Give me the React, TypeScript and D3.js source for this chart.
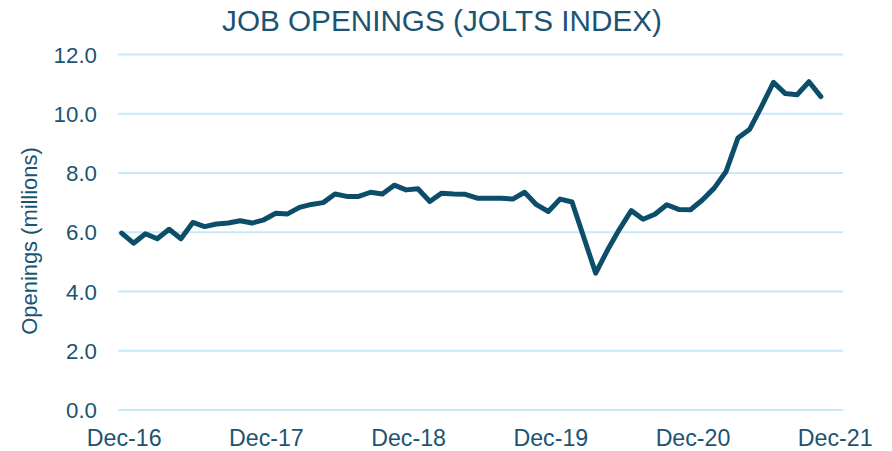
import React from "react";
import * as d3 from "d3";

const months: string[] = (() => {
  const names = ["Jan","Feb","Mar","Apr","May","Jun","Jul","Aug","Sep","Oct","Nov","Dec"];
  const out: string[] = [];
  for (let i = 0; i < 60; i++) {
    const m = (11 + i) % 12;
    const y = 16 + Math.floor((11 + i) / 12);
    out.push(`${names[m]}-${y}`);
  }
  return out;
})();

const openings: number[] = [
  5.97, 5.63, 5.95, 5.78, 6.10, 5.78, 6.33, 6.19, 6.28, 6.31, 6.39, 6.31,
  6.42, 6.64, 6.62, 6.84, 6.94, 7.0, 7.29, 7.21, 7.21, 7.35, 7.29, 7.59,
  7.43, 7.47, 7.04, 7.32, 7.29, 7.28, 7.15, 7.15, 7.15, 7.12, 7.35, 6.93,
  6.70, 7.12, 7.02, 5.82, 4.62, 5.40, 6.10, 6.73, 6.44, 6.61, 6.93, 6.77,
  6.76, 7.09, 7.49, 8.05, 9.18, 9.48, 10.25, 11.06, 10.68, 10.64, 11.08, 10.58,
];

const xTickLabels = ["Dec-16", "Dec-17", "Dec-18", "Dec-19", "Dec-20", "Dec-21"];
const yTicks = [0, 2, 4, 6, 8, 10, 12];

const W = 892;
const H = 451;
const textColor = "#1b5472";
const lineColor = "#0c4e69";
const gridColor = "#c6eafa";
const font = "'Liberation Sans', Arial, sans-serif";

export default function App() {
  const x = d3.scaleLinear().domain([0, 60]).range([121.7, 832.7]);
  const y = d3.scaleLinear().domain([0, 12]).range([410, 54.5]);
  const line = d3
    .line<number>()
    .x((_, i) => x(i))
    .y((d) => y(d));

  return (
    <svg
      width={W}
      height={H}
      style={{ position: "absolute", left: 0, top: 0, background: "#fff" }}
      fontFamily={font}
    >
      <text x={442} y={31} textAnchor="middle" fontSize={29.7} fill={textColor}>
        JOB OPENINGS (JOLTS INDEX)
      </text>
      {yTicks.map((t) => (
        <g key={t}>
          <line x1={118} x2={843} y1={y(t)} y2={y(t)} stroke={gridColor} strokeWidth={2} />
          <text x={97} y={y(t) + 8} textAnchor="end" fontSize={22.3} fill={textColor}>
            {t.toFixed(1)}
          </text>
        </g>
      ))}
      {xTickLabels.map((lab, i) => (
        <text key={lab} x={x(i * 12) + 2.5} y={446} textAnchor="middle" fontSize={23.2} fill={textColor}>
          {lab}
        </text>
      ))}
      <text
        transform={`translate(37,${241}) rotate(-90)`}
        textAnchor="middle"
        fontSize={21.9}
        fill={textColor}
      >
        Openings (millions)
      </text>
      <path
        d={line(openings) || ""}
        fill="none"
        stroke={lineColor}
        strokeWidth={5}
        strokeLinejoin="round"
        strokeLinecap="round"
      />
      <desc>{months.join(",")}</desc>
    </svg>
  );
}
